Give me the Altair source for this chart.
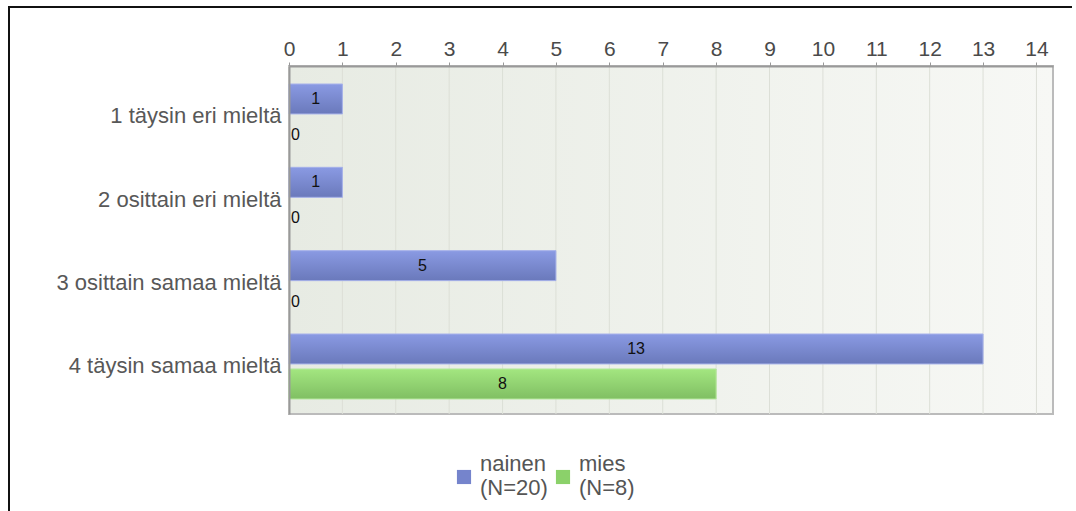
import altair as alt
import pandas as pd

# Survey answers by gender
categories = [
    "1 täysin eri mieltä",
    "2 osittain eri mieltä",
    "3 osittain samaa mieltä",
    "4 täysin samaa mieltä",
]
series = ["nainen", "mies"]
n_counts = [20, 8]
nainen_values = [1, 1, 5, 13]
mies_values = [0, 0, 0, 8]
x_ticks = list(range(0, 15))

series_labels = [f"{s}\n(N={n})" for s, n in zip(series, n_counts)]

rows = []
for cat, a, b in zip(categories, nainen_values, mies_values):
    rows.append({"kategoria": cat, "sarja": series_labels[0], "arvo": a, "puoli": a / 2})
    rows.append({"kategoria": cat, "sarja": series_labels[1], "arvo": b, "puoli": b / 2})
df = pd.DataFrame(rows)
grid_df = pd.DataFrame({"t": x_ticks})

FONT = "Liberation Sans"
W, H = 764, 348

x_scale = alt.Scale(domain=[0, 14.31], nice=False, zero=True)
y_scale = alt.Scale(domain=categories, paddingInner=0.22, paddingOuter=0.198, align=0.545)
off_scale = alt.Scale(domain=series_labels, paddingInner=0.143, paddingOuter=0)

x_axis = alt.Axis(
    orient="top", values=x_ticks, title=None, grid=False,
    labelFont=FONT, labelFontSize=21, labelColor="#4a4a4a",
    tickSize=4, tickColor="#999", domainColor="#999", domainWidth=2,
    labelPadding=3, labelFlush=False, zindex=1,
)
y_axis = alt.Axis(
    title=None, ticks=False, labelFont=FONT, labelFontSize=22, labelColor="#585858",
    domainColor="#999", domainWidth=2, labelPadding=8, zindex=1, labelLimit=400,
)

X = alt.X("arvo:Q", scale=x_scale, axis=x_axis)
Y = alt.Y("kategoria:N", sort=categories, scale=y_scale, axis=y_axis)
YO = alt.YOffset("sarja:N", scale=off_scale)

# plot background with a soft left-to-right gradient
bg = alt.Chart(grid_df).mark_rect(
    fill=alt.LinearGradient(
        gradient="linear", x1=0, x2=1, y1=0, y2=0,
        stops=[alt.GradientStop(color="#e7ebe3", offset=0),
               alt.GradientStop(color="#f7f8f5", offset=1)],
    ),
    stroke="#bbbbbb", strokeWidth=2,
).encode(x=alt.value(0), x2=alt.value(W), y=alt.value(0), y2=alt.value(H))

grid = alt.Chart(grid_df).mark_rule(color="#dcdfd7", strokeWidth=1).encode(
    x=alt.X("t:Q", scale=x_scale),
    y=alt.value(0), y2=alt.value(H),
)

nonzero = df[df["arvo"] > 0]

# flat bars carry the legend
base = alt.Chart(nonzero).mark_bar().encode(
    x=X, y=Y, yOffset=YO,
    color=alt.Color(
        "sarja:N",
        scale=alt.Scale(domain=series_labels, range=["#7584cc", "#8bd16a"]),
        legend=alt.Legend(
            title=None, orient="none", direction="horizontal",
            legendX=164, legendY=400,
            symbolType="square", symbolSize=200, symbolStrokeWidth=0,
            labelFont=FONT, labelFontSize=22, labelColor="#555",
            labelBaseline="line-bottom",
            labelExpr="split(datum.label, '\\n')",
            labelOffset=5, columnPadding=4, padding=0,
        ),
    ),
)


def gradient_bars(label, top, bottom, edge):
    return alt.Chart(nonzero[nonzero["sarja"] == label]).mark_bar(
        fill=alt.LinearGradient(
            gradient="linear", x1=0, x2=0, y1=0, y2=1,
            stops=[alt.GradientStop(color=top, offset=0),
                   alt.GradientStop(color=bottom, offset=1)],
        ),
        stroke=edge, strokeWidth=1,
    ).encode(x=X, y=Y, yOffset=YO)


blue = gradient_bars(series_labels[0], "#8a9ae3", "#6a79bb", "#a9b4ea")
green = gradient_bars(series_labels[1], "#a3e680", "#80bf63", "#b6e89c")

labels_mid = alt.Chart(nonzero).mark_text(
    font=FONT, fontSize=16, color="#111", align="center", baseline="middle",
).encode(
    x=alt.X("puoli:Q", scale=x_scale), y=Y, yOffset=YO, text=alt.Text("arvo:Q"),
)
labels_zero = alt.Chart(df[df["arvo"] == 0]).mark_text(
    font=FONT, fontSize=16, color="#111", align="left", baseline="middle", dx=2, dy=1,
).encode(
    x=alt.X("arvo:Q", scale=x_scale), y=Y, yOffset=YO, text=alt.Text("arvo:Q"),
)

# outer frame lines (top and left)
frame_top = alt.Chart(grid_df).mark_rule(color="#111", strokeWidth=2).encode(
    x=alt.value(-281), x2=alt.value(783), y=alt.value(-59)
)
frame_left = alt.Chart(grid_df).mark_rule(color="#111", strokeWidth=2).encode(
    x=alt.value(-280), y=alt.value(-60), y2=alt.value(446)
)

chart = alt.layer(
    bg, grid, base, blue, green, labels_mid, labels_zero, frame_top, frame_left
).properties(
    width=W, height=H,
    autosize=alt.AutoSizeParams(type="none"),
    padding={"left": 289, "top": 66, "right": 23, "bottom": 97},
).configure_view(
    strokeWidth=0
).configure(
    background="white"
)

chart.save("out.html", embed_options={"renderer": "svg", "actions": False})
